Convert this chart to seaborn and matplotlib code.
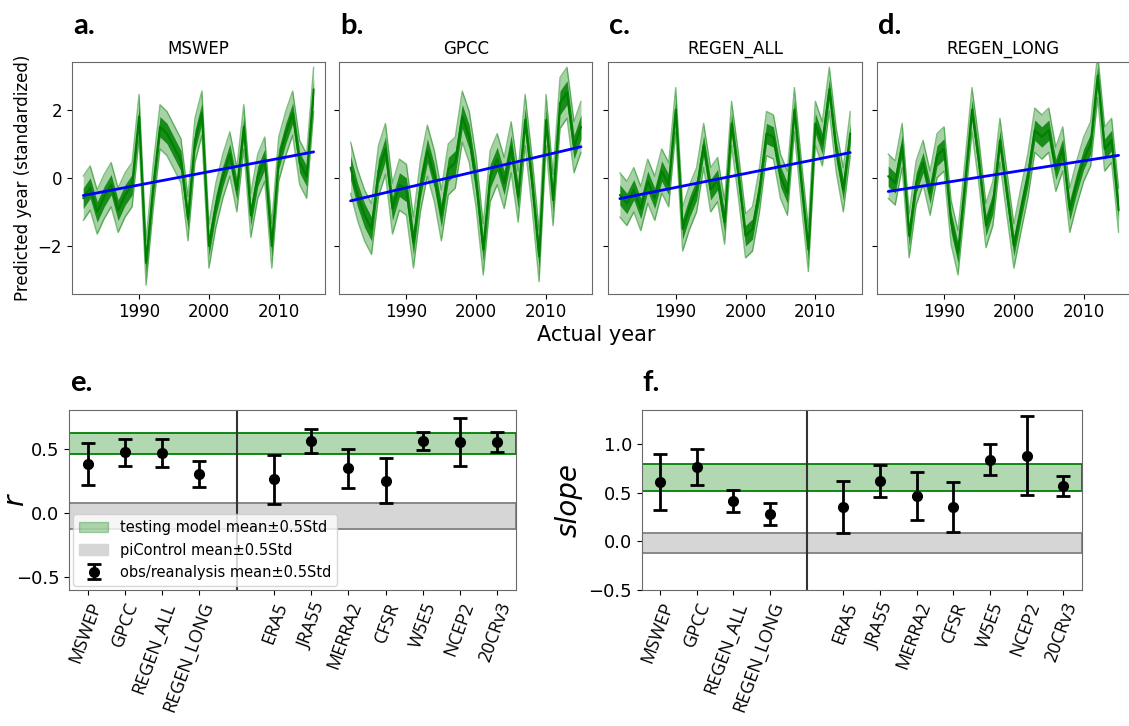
import numpy as np
import pandas as pd
import seaborn as sns
import matplotlib.pyplot as plt
from matplotlib.patches import Patch

# --- top panels: predicted year (ensemble centre) ---
years = list(range(1982, 2016))
panel_names = ["MSWEP", "GPCC", "REGEN_ALL", "REGEN_LONG"]
panel_letters_top = ["a.", "b.", "c.", "d."]

mswep_pred = [-0.6, -0.3, -1.0, -0.55, -0.2, -0.95, -0.5, -0.2, 1.8, -2.5,
              -0.3, 1.5, 1.3, 0.9, 0.5, -1.2, 1.1, 1.9, -2.0, -0.8,
              0.05, 0.7, -0.35, 1.5, -1.1, 0.05, 0.55, -2.0, 0.55, 1.3,
              1.9, 0.45, 0.05, 2.6]
gpcc_pred = [0.3, -0.5, -1.1, -1.5, 0.2, 0.85, -0.9, -0.2, -0.35, -1.9,
             -0.25, 0.8, 0.05, -1.1, 0.25, 0.45, 1.8, 1.2, -0.15, -2.1,
             0.05, 0.55, -0.15, 0.9, -0.55, 1.7, -0.15, -2.3, 1.7, -0.65,
             2.2, 2.5, 0.9, 1.5]
regen_all_pred = [-0.5, -0.75, -0.35, -0.9, -0.1, -0.6, 0.2, -0.2, 2.0, -1.5,
                  -0.85, -0.35, 0.95, -0.35, -0.05, -1.3, 1.6, 0.05, -1.7, -1.5,
                  -0.35, 1.3, 1.2, 0.05, -0.45, 2.0, -0.15, -2.1, 1.6, 1.0,
                  2.6, 0.8, -0.35, 1.3]
regen_long_pred = [0.05, -0.15, 0.95, -1.7, -0.15, 0.45, -0.45, 0.65, 0.85, -1.3,
                   -2.2, -0.15, 2.0, 0.45, -1.4, -0.75, 1.1, -0.45, -2.0, -0.95,
                   0.05, 1.4, 1.2, 1.4, 0.25, 0.85, -0.95, -0.15, 0.55, 1.0,
                   3.0, 0.85, 1.1, -0.95]
# half-widths of the ensemble spread (outer fringe and dense core)
outer_spread = [0.65, 0.75, 0.65, 0.65]
inner_spread = [0.3, 0.35, 0.3, 0.3]
top_series = [mswep_pred, gpcc_pred, regen_all_pred, regen_long_pred]

# --- bottom panels: r and slope per dataset ---
datasets = ["MSWEP", "GPCC", "REGEN_ALL", "REGEN_LONG",
            "ERA5", "JRA55", "MERRA2", "CFSR", "W5E5", "NCEP2", "20CRv3"]
r_mean = [0.38, 0.47, 0.465, 0.30, 0.26, 0.56, 0.345, 0.25, 0.56, 0.55, 0.55]
r_err = [0.167, 0.105, 0.108, 0.10, 0.19, 0.094, 0.153, 0.175, 0.068, 0.186, 0.08]
slope_mean = [0.61, 0.765, 0.413, 0.283, 0.355, 0.618, 0.464, 0.355, 0.84, 0.881, 0.57]
slope_err = [0.285, 0.184, 0.115, 0.116, 0.27, 0.164, 0.244, 0.256, 0.157, 0.403, 0.106]
r_testing_band = [0.457, 0.618]
r_picontrol_band = [-0.127, 0.08]
slope_testing_band = [0.519, 0.792]
slope_picontrol_band = [-0.119, 0.082]

sns.set_style("ticks")
plt.rcParams["font.family"] = ["DejaVu Sans"]
plt.rcParams["axes.edgecolor"] = "dimgray"
for key in ["text.color", "axes.labelcolor", "xtick.color", "ytick.color"]:
    plt.rcParams[key] = "black"

fig = plt.figure(figsize=(11.29, 7.26), dpi=100)

top_lefts = [0.0635, 0.3003, 0.5388, 0.7765]
for i, (name, series) in enumerate(zip(panel_names, top_series)):
    ax = fig.add_axes([top_lefts[i], 0.5955, 0.2245, 0.319])
    df = pd.DataFrame({"year": years, "pred": series})
    vals = np.array(series)
    ax.fill_between(years, vals - outer_spread[i], vals + outer_spread[i],
                    color="green", alpha=0.35, lw=0)
    ax.fill_between(years, vals - inner_spread[i], vals + inner_spread[i],
                    color="green", alpha=0.85, lw=0)
    ax.plot(years, vals - outer_spread[i], color="green", alpha=0.5, lw=1)
    ax.plot(years, vals + outer_spread[i], color="green", alpha=0.5, lw=1)
    sns.lineplot(data=df, x="year", y="pred", color="green", lw=1.5, ax=ax)
    sns.regplot(data=df, x="year", y="pred", scatter=False, ci=None,
                color="blue", line_kws={"lw": 2}, ax=ax)
    ax.set_ylim(-3.4, 3.4)
    ax.set_xlim(1980.35, 2016.65)
    ax.set_xticks([1990, 2000, 2010])
    ax.set_yticks([-2, 0, 2])
    ax.tick_params(labelsize=12)
    ax.set_xlabel("")
    ax.set_title(name, fontsize=12)
    if i == 0:
        ax.set_ylabel("Predicted year (standardized)", fontsize=12)
    else:
        ax.set_ylabel("")
        ax.set_yticklabels([])
    fig.text(top_lefts[i] + 0.001, 0.953, panel_letters_top[i], fontsize=21,
             fontweight="bold", family="Lato")

fig.text(0.528, 0.539, "Actual year", fontsize=15, ha="center", va="center")

# --- bottom panels ---
xpos = [0, 1, 2, 3, 5, 6, 7, 8, 9, 10, 11]
bottom_specs = [
    (0.0611, 0.396, r_mean, r_err, r_testing_band, r_picontrol_band,
     "r", (-0.6, 0.8), [-0.5, 0.0, 0.5], "e."),
    (0.5684, 0.3897, slope_mean, slope_err, slope_testing_band, slope_picontrol_band,
     "slope", (-0.5, 1.35), [-0.5, 0.0, 0.5, 1.0], "f."),
]
for k, (left, width, mean, err, tband, pband, ylab, ylim, yt, letter) in enumerate(bottom_specs):
    ax = fig.add_axes([left, 0.1873, width, 0.248])
    ax.axhspan(tband[0], tband[1], facecolor=(0, 0.5, 0, 0.3), edgecolor="green", lw=1.3)
    ax.axhspan(pband[0], pband[1], facecolor="#d6d6d6", edgecolor="gray", lw=1.3)
    ax.axvline(4, color="#333333", lw=1.5)
    eb = ax.errorbar(xpos, mean, yerr=err, fmt="o", color="black", ms=7,
                     capsize=5, elinewidth=2, capthick=2)
    ax.set_xlim(-0.5, 11.5)
    ax.set_ylim(*ylim)
    ax.set_yticks(yt)
    ax.set_xticks(xpos)
    ax.set_xticklabels(datasets, rotation=70, ha="right", rotation_mode="anchor",
                       fontsize=13, family="Open Sans")
    ax.tick_params(axis="y", labelsize=13)
    ax.set_ylabel(ylab, fontsize=20, style="italic")
    if k == 0:
        ax.yaxis.set_label_coords(-0.09, 0.5)
    fig.text(left + 0.001, 0.462, letter, fontsize=21, fontweight="bold", family="Lato")
    if k == 0:
        handles = [Patch(facecolor=(0, 0.5, 0, 0.3), edgecolor=(0, 0.5, 0, 0.3)),
                   Patch(facecolor="#d6d6d6", edgecolor="#d6d6d6"), eb]
        labels = ["testing model mean\u00b10.5Std", "piControl mean\u00b10.5Std",
                  "obs/reanalysis mean\u00b10.5Std"]
        ax.legend(handles, labels, loc="lower left", fontsize=10.5,
                  bbox_to_anchor=(0.0, 0.0), borderaxespad=0.3)

fig.savefig("out.png", dpi=100)
